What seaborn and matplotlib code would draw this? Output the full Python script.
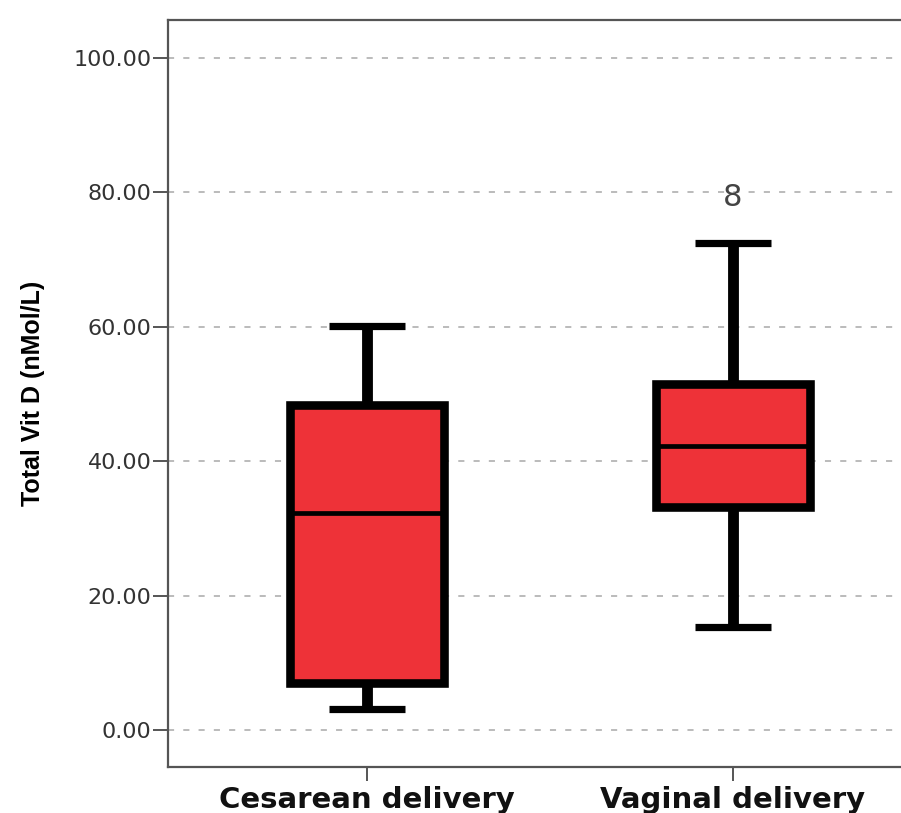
import matplotlib
matplotlib.use("Agg")
import matplotlib.pyplot as plt
import numpy as np
import pandas as pd
import seaborn as sns
from matplotlib.ticker import FormatStrFormatter

# five-number summaries
groups = ["Cesarean delivery", "Vaginal delivery"]
whisker_low = [3.1, 15.3]
q1 = [7.0, 33.2]
median = [32.3, 42.3]
q3 = [48.4, 51.5]
whisker_high = [60.1, 72.5]

# labelled outlier (case number)
outlier_group = ["Vaginal delivery"]
outlier_value = [79.2]
outlier_label = ["8"]

yticks = [0, 20, 40, 60, 80, 100]

rows = []
for i, g in enumerate(groups):
    for v in (whisker_low[i], q1[i], median[i], q3[i], whisker_high[i]):
        rows.append({"delivery": g, "vitd": v})
df = pd.DataFrame(rows)

sns.set_theme(style="white")
plt.rcParams["font.family"] = ["DejaVu Sans"]

fig = plt.figure(figsize=(9.01, 8.13), dpi=100)
ax = fig.add_axes([168 / 901, 1 - 767 / 813, (932 - 168) / 901, (767 - 20) / 813])

sns.boxplot(
    data=df,
    x="delivery",
    y="vitd",
    order=groups,
    whis=(0, 100),
    width=0.42,
    color="#EE3238",
    saturation=1,
    linecolor="black",
    showfliers=False,
    boxprops={"linewidth": 6.2},
    whiskerprops={"linewidth": 7.8, "solid_capstyle": "butt"},
    capprops={"linewidth": 5.2, "solid_capstyle": "butt"},
    medianprops={"linewidth": 3.4, "color": "black"},
    ax=ax,
)

for g, v, lab in zip(outlier_group, outlier_value, outlier_label):
    ax.text(groups.index(g), v, lab, ha="center", va="center",
            fontsize=22, color="#444444")

ax.set_xlim(-0.544, 1.544)
ax.set_ylim(-5.5, 105.65)
ax.set_yticks(yticks)
ax.yaxis.set_major_formatter(FormatStrFormatter("%.2f"))
ax.yaxis.grid(True, linestyle=(0, (4, 6)), color="#A8A8A8", linewidth=1.1)
ax.set_axisbelow(True)

for side in ["left", "bottom", "top", "right"]:
    ax.spines[side].set_color("#555555")
    ax.spines[side].set_linewidth(1.6)

ax.tick_params(axis="y", length=10.5, width=1.4, color="#555555", pad=1.5,
               labelsize=16, labelcolor="#333333", left=True)
ax.tick_params(axis="x", length=10, width=1.4, color="#555555", pad=4,
               bottom=True)
for lab in ax.get_xticklabels():
    lab.set_fontsize(21)
    lab.set_fontweight("bold")
    lab.set_color("#111111")

ax.set_xlabel("")
ax.set_ylabel("Total Vit D (nMol/L)", fontsize=18, fontweight="bold",
              family=["Liberation Sans", "DejaVu Sans"], color="black")
ax.yaxis.set_label_coords(-0.161, 0.5)

fig.savefig("out.png", dpi=100)
